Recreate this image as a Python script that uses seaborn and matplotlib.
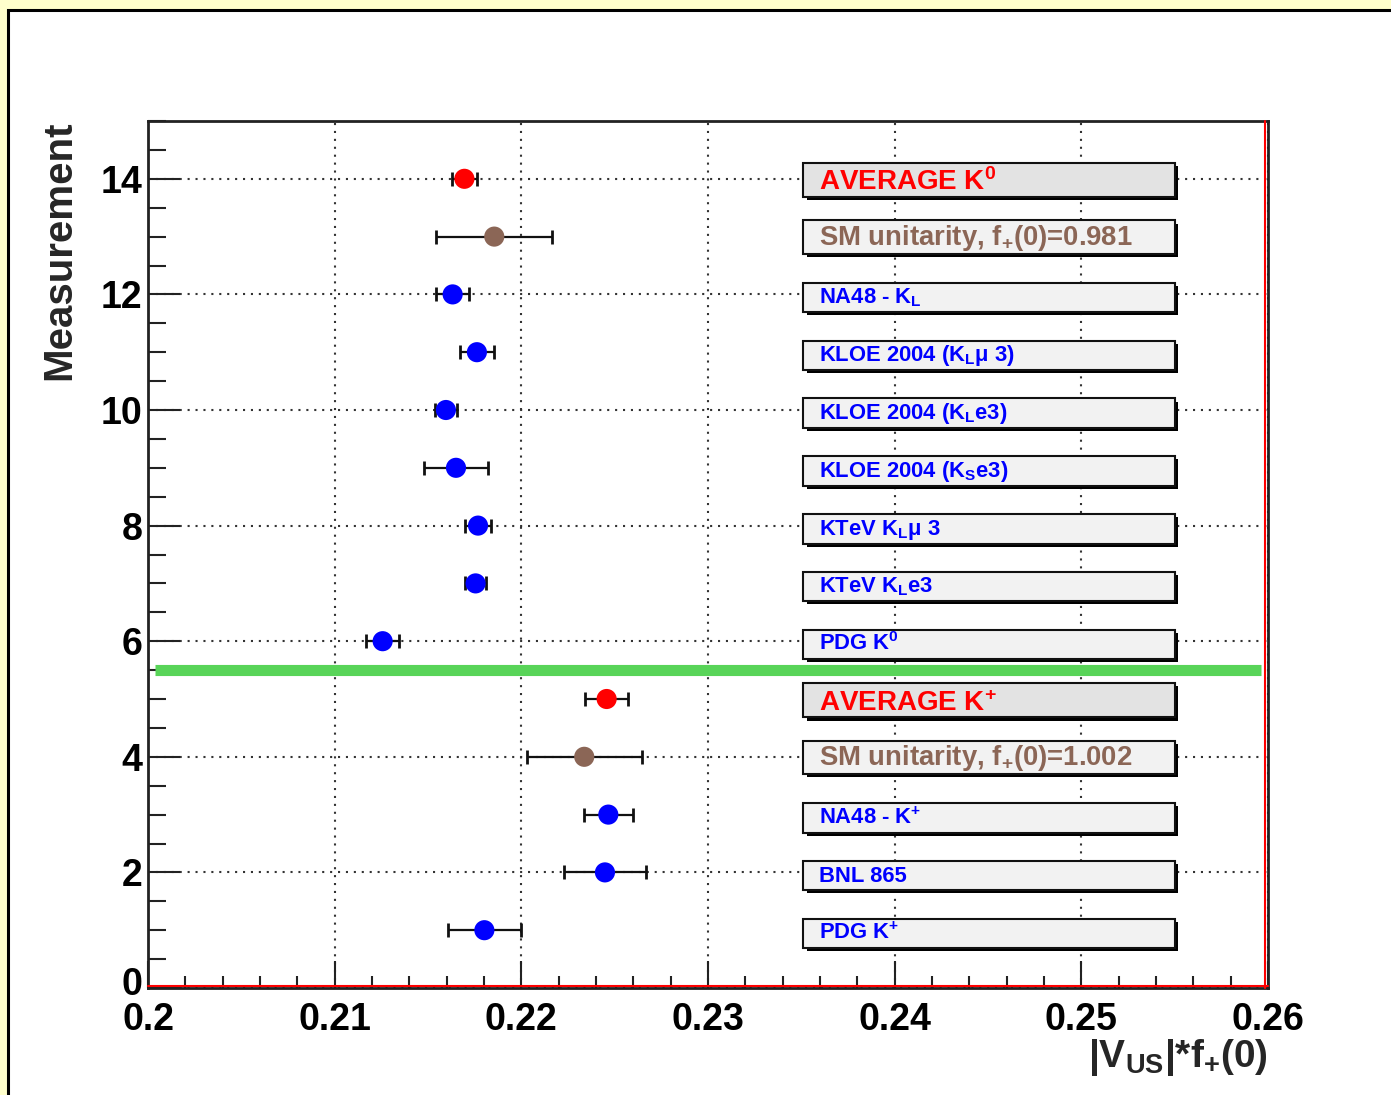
import matplotlib
matplotlib.use("Agg")
import matplotlib.pyplot as plt
from matplotlib.patches import Rectangle
from matplotlib.lines import Line2D
import matplotlib.transforms as mtransforms
import seaborn as sns
import pandas as pd
import numpy as np

# ---------------- data ----------------
positions = [14, 13, 12, 11, 10, 9, 8, 7, 6, 5, 4, 3, 2, 1]
values = [0.21695, 0.21855, 0.21632, 0.21762, 0.21596, 0.21650, 0.21768,
          0.21755, 0.21257, 0.22457, 0.22337, 0.22466, 0.22448, 0.21802]
errors = [0.00069, 0.00310, 0.00089, 0.00091, 0.00058, 0.00171, 0.00070,
          0.00058, 0.00088, 0.00117, 0.00308, 0.00130, 0.00220, 0.00197]
kinds = ["average", "sm", "meas", "meas", "meas", "meas", "meas",
         "meas", "meas", "average", "sm", "meas", "meas", "meas"]
labels = [
    "AVERAGE K$^{0}$",
    "SM unitarity, f$_{+}$(0)=0.981",
    "NA48 - K$_{L}$",
    "KLOE 2004 (K$_{L}$μ 3)",
    "KLOE 2004 (K$_{L}$e3)",
    "KLOE 2004 (K$_{S}$e3)",
    "KTeV K$_{L}$μ 3",
    "KTeV K$_{L}$e3",
    "PDG K$^{0}$",
    "AVERAGE K$^{+}$",
    "SM unitarity, f$_{+}$(0)=1.002",
    "NA48 - K$^{+}$",
    "BNL 865",
    "PDG K$^{+}$",
]
separator_y = 5.5
x_ticks = [0.2, 0.21, 0.22, 0.23, 0.24, 0.25, 0.26]
y_ticks = [0, 2, 4, 6, 8, 10, 12, 14]

df = pd.DataFrame({"x": values, "y": positions, "err": errors,
                   "kind": kinds, "label": labels})

palette = {"average": "#ff0000", "sm": "#8b6656", "meas": "#0000ff"}

# ---------------- style ----------------
sns.set_theme(style="ticks")
plt.rcParams["font.family"] = ["Liberation Sans", "DejaVu Sans"]
plt.rcParams["font.weight"] = "bold"
plt.rcParams["mathtext.fontset"] = "custom"
plt.rcParams["mathtext.rm"] = "Liberation Sans:bold"
plt.rcParams["mathtext.bf"] = "Liberation Sans:bold"
plt.rcParams["mathtext.it"] = "Liberation Sans:bold"
plt.rcParams["mathtext.sf"] = "Liberation Sans:bold"
plt.rcParams["mathtext.default"] = "regular"

W, H = 1391, 1095
fig = plt.figure(figsize=(W / 100, H / 100), dpi=100, facecolor="#ffffcc")

# white canvas with black frame
fig.add_artist(Rectangle((8 / W, -0.02), 1.05, (1 - 10 / H) + 0.02,
                         transform=fig.transFigure, facecolor="white",
                         edgecolor="black", linewidth=2.2, zorder=0))

ax = fig.add_axes([148 / W, 1 - 988 / H, (1268 - 148) / W, (988 - 121) / H])
ax.set_facecolor("white")
ax.set_zorder(1)

ax.set_xlim(0.2, 0.26)
ax.set_ylim(0, 15)

# grid
grid_ls = (0, (1, 2.8))
ax.set_xticks(x_ticks)
ax.set_yticks(y_ticks)
ax.set_xticks(np.arange(0.2, 0.2601, 0.002), minor=True)
ax.set_yticks(np.arange(0, 15.01, 0.5), minor=True)
ax.grid(True, which="major", color="#333333", linestyle=grid_ls,
        linewidth=1.5, zorder=0)
ax.set_axisbelow(True)

ax.set_xticklabels([f"{t:g}" for t in x_ticks])
ax.set_yticklabels([str(t) for t in y_ticks])

ax.tick_params(axis="both", which="both", direction="in", colors="#222222",
               width=1.5, labelsize=27, labelcolor="black")
ax.tick_params(axis="y", which="major", length=23, pad=4)
ax.tick_params(axis="y", which="minor", length=13)
ax.tick_params(axis="x", which="major", length=19.5, pad=10)
ax.tick_params(axis="x", which="minor", length=8.5)
for lab in ax.get_xticklabels() + ax.get_yticklabels():
    lab.set_fontweight("bold")
# lift the "0" label of the y axis a little so it sits just above "0.2"
ylab0 = ax.get_yticklabels()[0]
ylab0.set_transform(ylab0.get_transform() +
                    mtransforms.ScaledTranslation(0, 7 / 100, fig.dpi_scale_trans))

for s in ax.spines.values():
    s.set_color("#222222")
    s.set_linewidth(2.0)
ax.add_line(Line2D([0, 1], [0.0025, 0.0025], transform=ax.transAxes,
                   color="#ff0000", lw=1.5, zorder=5, clip_on=False))
ax.add_line(Line2D([0.9975, 0.9975], [0, 1], transform=ax.transAxes,
                   color="#ff0000", lw=1.5, zorder=5, clip_on=False))

# separator
ax.axhline(separator_y, xmin=0.006, xmax=0.994, color="#58d458", lw=8,
           zorder=2, solid_capstyle="butt")

# label boxes
box_x0, box_x1 = 0.2351, 0.2550
text_x = 0.23595
sx, sy = 0.00018, 0.055
for _, r in df.iterrows():
    if r["kind"] == "average":
        h, dc, fc, fs, tb = 0.60, -0.02, "#e3e3e3", 20, -0.20
    elif r["kind"] == "sm":
        h, dc, fc, fs, tb = 0.58, -0.01, "#f2f2f2", 19.8, -0.14
    else:
        h, dc, fc, fs, tb = 0.51, -0.055, "#f2f2f2", 15.8, -0.16
    yc = r["y"] + dc
    ax.add_patch(Rectangle((box_x0 + sx, yc - h / 2 - sy), box_x1 - box_x0, h,
                           facecolor="black", edgecolor="none", zorder=3))
    ax.add_patch(Rectangle((box_x0, yc - h / 2), box_x1 - box_x0, h,
                           facecolor=fc, edgecolor="#111111", lw=1.5, zorder=3))
    ax.text(text_x, r["y"] + tb, r["label"], color=palette[r["kind"]],
            fontsize=fs, fontweight="bold", va="baseline", ha="left", zorder=4)

# error bars and points
ax.errorbar(df["x"], df["y"], xerr=df["err"], fmt="none", ecolor="#111111",
            elinewidth=1.6, capsize=5, capthick=2, zorder=5)
sns.scatterplot(data=df, x="x", y="y", hue="kind", palette=palette, s=210,
                edgecolor="none", legend=False, ax=ax, zorder=6)

ax.set_xlabel("|V$_{US}$|*f$_{+}$(0)", fontsize=28, fontweight="bold",
              loc="right")
ax.xaxis.set_label_coords(1.0, -0.056)
ax.set_ylabel("Measurement", fontsize=29, fontweight="bold", loc="top")
ax.yaxis.set_label_coords(-0.062, 1.0)

fig.savefig("out.png", dpi=100, facecolor=fig.get_facecolor())
